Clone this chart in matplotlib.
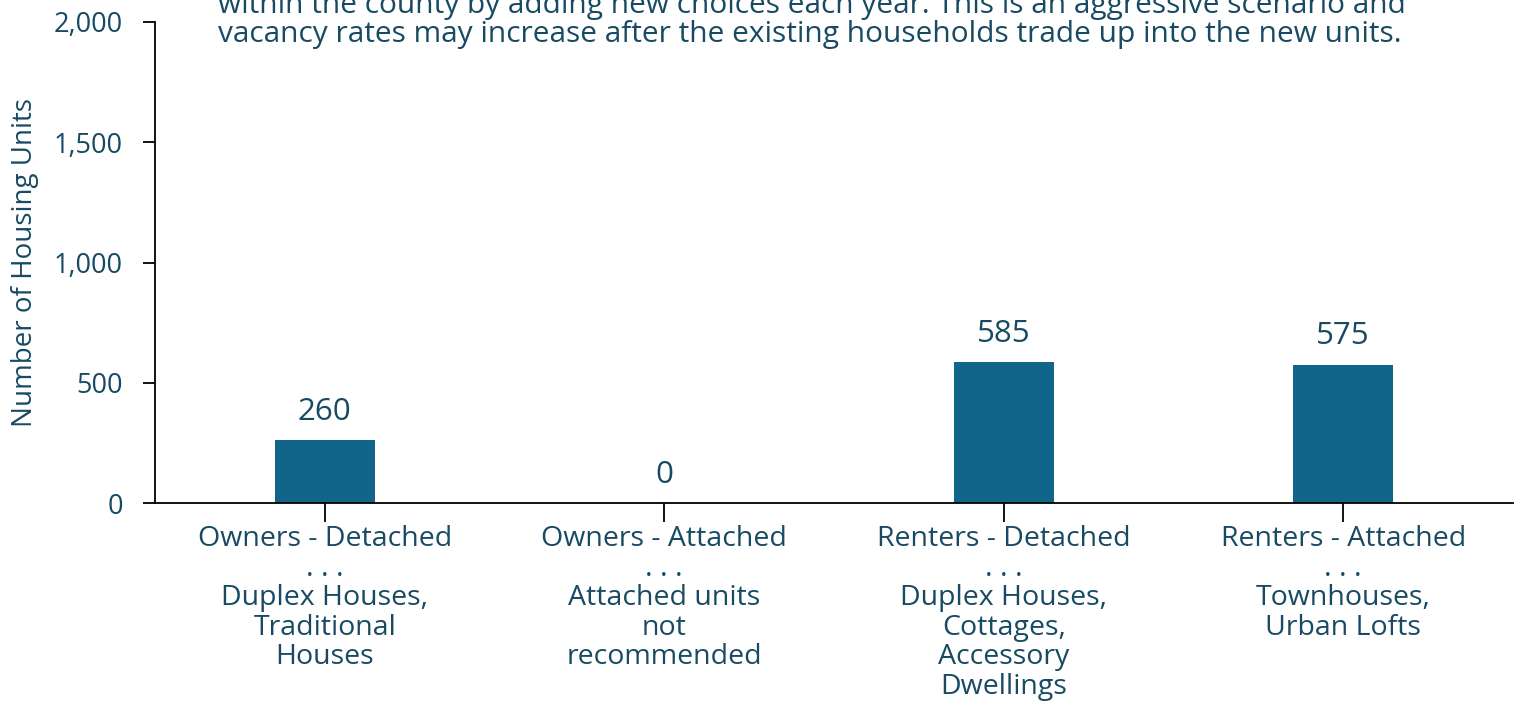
import numpy as np
import matplotlib
matplotlib.use('Agg')
import matplotlib.pyplot as plt

# data
categories = ['Owners - Detached\n. . .\nDuplex Houses,\nTraditional\nHouses',
              'Owners - Attached\n. . .\nAttached units\nnot\nrecommended',
              'Renters - Detached\n. . .\nDuplex Houses,\nCottages,\nAccessory\nDwellings',
              'Renters - Attached\n. . .\nTownhouses,\nUrban Lofts']
units = [260, 0, 585, 575]
yticks = [0, 500, 1000, 1500, 2000]
note = ('within the county by adding new choices each year. This is an aggressive scenario and\n'
        'vacancy rates may increase after the existing households trade up into the new units.')

bar_color = '#12658a'
text_color = '#184b63'

plt.rcParams['font.family'] = ['Open Sans', 'DejaVu Sans']

fig = plt.figure(figsize=(15.18, 7.02), dpi=100)
ax = fig.add_axes([155/1518, 1 - 503/702, (1513 - 155)/1518, (503 - 22)/702])

x = np.arange(len(categories))
ax.bar(x, units, width=0.295, color=bar_color)
for xi, v in zip(x, units):
    ax.text(xi, v + 56, f'{v:,}', ha='center', va='bottom', fontsize=22.5, color=text_color)

ax.set_xlim(-0.5, 3.5)
ax.set_ylim(0, 2000)
ax.set_yticks(yticks)
ax.set_yticklabels([f'{t:,}' for t in yticks])
ax.set_xticks(x)
ax.set_xticklabels(categories, linespacing=1.07)

for s in ['top', 'right']:
    ax.spines[s].set_visible(False)
for s in ['left', 'bottom']:
    ax.spines[s].set_linewidth(1.3)

ax.tick_params(axis='y', length=9, width=1.3, labelsize=19.5, labelcolor=text_color, pad=14)
ax.tick_params(axis='x', length=14, width=1.3, labelsize=20.5, labelcolor=text_color, pad=2)
ax.set_ylabel('Number of Housing Units', fontsize=20, color=text_color, labelpad=11)

fig.text(218/1518, 1 - 49/702, note, ha='left', va='bottom', fontsize=21.5, color=text_color,
         linespacing=0.98)

fig.savefig('out.png', dpi=100)
